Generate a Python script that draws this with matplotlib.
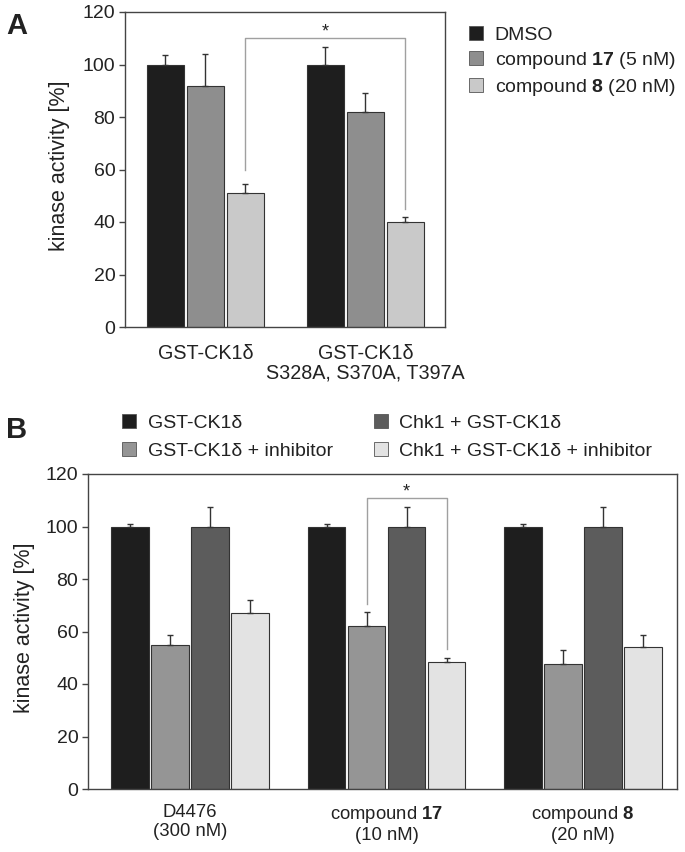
import matplotlib
matplotlib.use("Agg")
import matplotlib.pyplot as plt
from matplotlib.patches import Patch
import numpy as np

plt.rcParams['font.family'] = ['Liberation Sans', 'DejaVu Sans']
plt.rcParams['mathtext.fontset'] = 'custom'
plt.rcParams['mathtext.rm'] = 'Liberation Sans'
plt.rcParams['mathtext.bf'] = 'Liberation Sans:bold'

# ---------------- Panel A data ----------------
a_groups = ["GST-CK1δ", "GST-CK1δ\nS328A, S370A, T397A"]
a_series = ["DMSO", "compound $\\mathbf{17}$ (5 nM)", "compound $\\mathbf{8}$ (20 nM)"]
a_dmso = [100, 100]
a_dmso_err = [3.5, 6.5]
a_c17 = [92, 82]
a_c17_err = [12, 7]
a_c8 = [51, 40]
a_c8_err = [3.5, 2]
a_colors = ["#1e1e1e", "#8e8e8e", "#c9c9c9"]

# ---------------- Panel B data ----------------
b_groups = ["D4476\n(300 nM)", "compound $\\mathbf{17}$\n(10 nM)", "compound $\\mathbf{8}$\n(20 nM)"]
b_series = ["GST-CK1δ", "GST-CK1δ + inhibitor", "Chk1 + GST-CK1δ", "Chk1 + GST-CK1δ + inhibitor"]
b_ck1 = [100, 100, 100]
b_ck1_err = [1, 1, 1]
b_ck1_inh = [55, 62, 47.5]
b_ck1_inh_err = [3.5, 5.5, 5.5]
b_chk1 = [100, 100, 100]
b_chk1_err = [7.5, 7.5, 7.5]
b_chk1_inh = [67, 48.5, 54]
b_chk1_inh_err = [5, 1.5, 4.5]
b_colors = ["#1e1e1e", "#959595", "#5c5c5c", "#e3e3e3"]

W, H = 685, 852
fig = plt.figure(figsize=(W / 100, H / 100), dpi=100)

def px_axes(l, t, r, b):
    return fig.add_axes([l / W, 1 - b / H, (r - l) / W, (b - t) / H])

edge = "#333333"
txt = "#222222"

def style(ax):
    for s in ax.spines.values():
        s.set_color("#444444")
        s.set_linewidth(1.0)
    ax.tick_params(axis='y', direction='out', length=4, width=1, colors="#444444",
                   labelcolor=txt, labelsize=14, pad=3)
    ax.tick_params(axis='x', length=0, labelcolor=txt)
    ax.set_ylim(0, 120)
    ax.set_yticks(range(0, 121, 20))

# ---------------- Panel A ----------------
axA = px_axes(125, 12, 445, 327)
style(axA)
xa = np.arange(len(a_groups))
spA = 0.25
wA = 0.23
valsA = [a_dmso, a_c17, a_c8]
errsA = [a_dmso_err, a_c17_err, a_c8_err]
for i, (v, e, c) in enumerate(zip(valsA, errsA, a_colors)):
    pos = xa + (i - 1) * spA
    axA.bar(pos, v, wA, color=c, edgecolor=edge, linewidth=0.8, zorder=2)
    axA.errorbar(pos, v, yerr=[np.zeros(len(v)), e], fmt='none', ecolor=edge,
                 elinewidth=1, capsize=2, capthick=1, zorder=3)
axA.set_xlim(-0.503, 1.497)
axA.set_xticks(xa)
axA.set_xticklabels(a_groups, fontsize=14.2, linespacing=1.05)
axA.tick_params(axis='x', pad=12)
fig.text(60 / W, 1 - 166 / H, "kinase activity [%]", rotation=90, ha='center',
         va='center', fontsize=15.5, color=txt)
# significance bracket
x1 = xa[0] + spA
x2 = xa[1] + spA
axA.plot([x1, x1, x2, x2], [60, 110, 110, 45], color="#a0a0a0", lw=1, zorder=1)
axA.text((x1 + x2) / 2, 110.6, "*", ha='center', va='baseline', fontsize=13, color=txt)
handlesA = [Patch(facecolor=c, edgecolor="#555555", linewidth=0.6) for c in a_colors]
fig.legend(handlesA, a_series, loc='upper left', bbox_to_anchor=(469 / W, 1 - 26 / H),
           frameon=False, fontsize=14, handlelength=0.72, handleheight=0.72,
           handletextpad=0.6, labelspacing=0.32, labelcolor=txt, borderpad=0,
           borderaxespad=0)
fig.text(6 / W, 1 - 12 / H, "A", fontsize=21, fontweight='bold', color=txt,
         va='top', ha='left')

# ---------------- Panel B ----------------
axB = px_axes(88, 474, 677, 789)
style(axB)
xb = np.arange(len(b_groups))
spB = 0.2035
wB = 0.19
valsB = [b_ck1, b_ck1_inh, b_chk1, b_chk1_inh]
errsB = [b_ck1_err, b_ck1_inh_err, b_chk1_err, b_chk1_inh_err]
for i, (v, e, c) in enumerate(zip(valsB, errsB, b_colors)):
    pos = xb + (i - 1.5) * spB
    axB.bar(pos, v, wB, color=c, edgecolor=edge, linewidth=0.8, zorder=2)
    axB.errorbar(pos, v, yerr=[np.zeros(len(v)), e], fmt='none', ecolor=edge,
                 elinewidth=1, capsize=2, capthick=1, zorder=3)
axB.set_xlim(-0.519, 2.478)
axB.set_xticks(xb)
axB.set_xticklabels(b_groups, fontsize=13.3, linespacing=1.12)
axB.tick_params(axis='x', pad=11)
fig.text(25 / W, 1 - 628 / H, "kinase activity [%]", rotation=90, ha='center',
         va='center', fontsize=15.5, color=txt)
x1 = xb[1] - 0.5 * spB
x2 = xb[1] + 1.5 * spB
axB.plot([x1, x1, x2, x2], [70.5, 111, 111, 53.5], color="#a0a0a0", lw=1, zorder=1)
axB.text((x1 + x2) / 2, 111.6, "*", ha='center', va='baseline', fontsize=13, color=txt)
handlesB = [Patch(facecolor=c, edgecolor="#555555", linewidth=0.6) for c in b_colors]
fig.legend(handlesB, b_series, loc='upper left', ncol=2,
           bbox_to_anchor=(122 / W, 1 - 414 / H), frameon=False, fontsize=14,
           handlelength=0.72, handleheight=0.72, handletextpad=0.6, labelspacing=0.55,
           columnspacing=2.1, labelcolor=txt, borderpad=0, borderaxespad=0)
fig.text(6 / W, 1 - 416 / H, "B", fontsize=21, fontweight='bold', color=txt,
         va='top', ha='left')

fig.savefig("out.png", dpi=100, facecolor="white")
